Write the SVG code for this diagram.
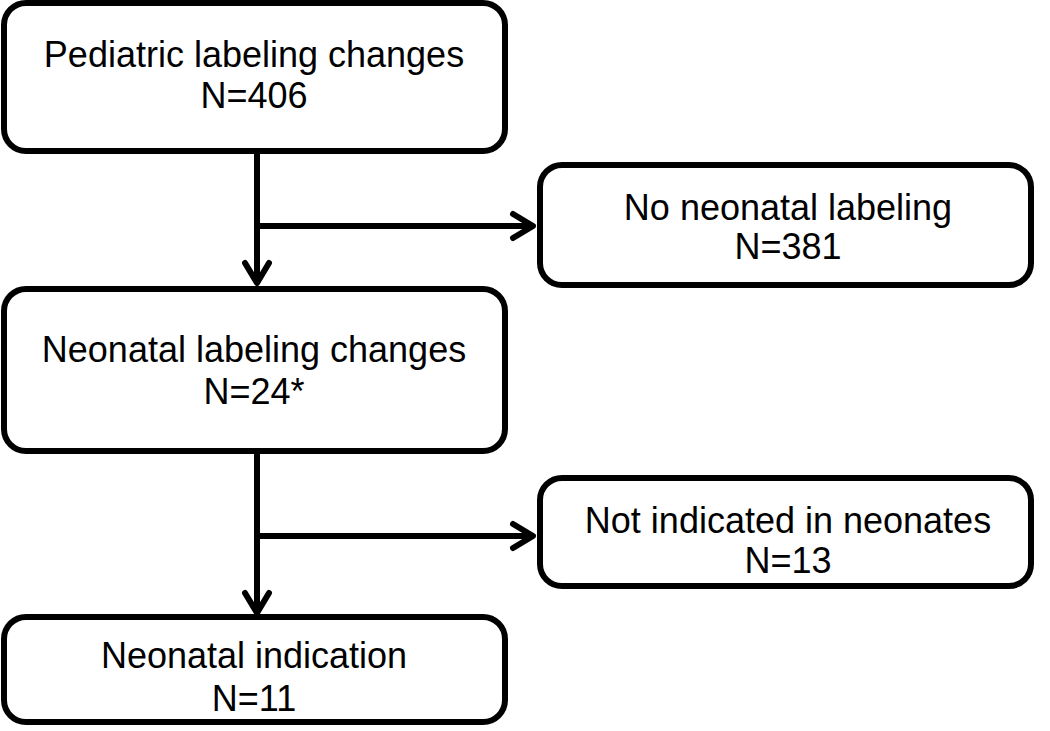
<svg xmlns="http://www.w3.org/2000/svg" width="1050" height="731" viewBox="0 0 1050 731">
<style>
.box{fill:#fff;stroke:#000;stroke-width:6}
.lbl{font-family:"Liberation Sans",Arial,sans-serif;font-size:36px;fill:#000;text-anchor:middle}
.conn{fill:none;stroke:#000;stroke-width:6}
</style>
<defs>
<marker id="arr" markerUnits="userSpaceOnUse" viewBox="-26 -18 30 36" markerWidth="30" markerHeight="36" refX="0" refY="0" orient="auto">
<path d="M-20,-12 L0,0 L-20,12" fill="none" stroke="#000" stroke-width="6" stroke-linecap="round" stroke-linejoin="round"/>
</marker>
</defs>
<rect width="1050" height="731" fill="#fff"/>
<g id="connectors">
<path class="conn" d="M257,152 V283" marker-end="url(#arr)"/>
<path class="conn" d="M254,226 H533" marker-end="url(#arr)"/>
<path class="conn" d="M257,452 V613" marker-end="url(#arr)"/>
<path class="conn" d="M254,536 H533" marker-end="url(#arr)"/>
</g>
<g id="node1">
<rect class="box" x="4" y="3" width="501" height="148" rx="22"/>
<text class="lbl" x="254" y="67">Pediatric labeling changes</text>
<text class="lbl" x="254" y="108">N=406</text>
</g>
<g id="node2">
<rect class="box" x="540" y="165" width="491" height="120" rx="22"/>
<text class="lbl" x="788" y="220">No neonatal labeling</text>
<text class="lbl" x="788" y="259">N=381</text>
</g>
<g id="node3">
<rect class="box" x="4" y="289" width="501" height="162" rx="22"/>
<text class="lbl" x="254" y="362">Neonatal labeling changes</text>
<text class="lbl" x="254" y="404">N=24*</text>
</g>
<g id="node4">
<rect class="box" x="540" y="478" width="491" height="108" rx="22"/>
<text class="lbl" x="788" y="533">Not indicated in neonates</text>
<text class="lbl" x="788" y="573">N=13</text>
</g>
<g id="node5">
<rect class="box" x="4" y="617" width="501" height="105" rx="22"/>
<text class="lbl" x="254" y="668">Neonatal indication</text>
<text class="lbl" x="254" y="711">N=11</text>
</g>
</svg>
